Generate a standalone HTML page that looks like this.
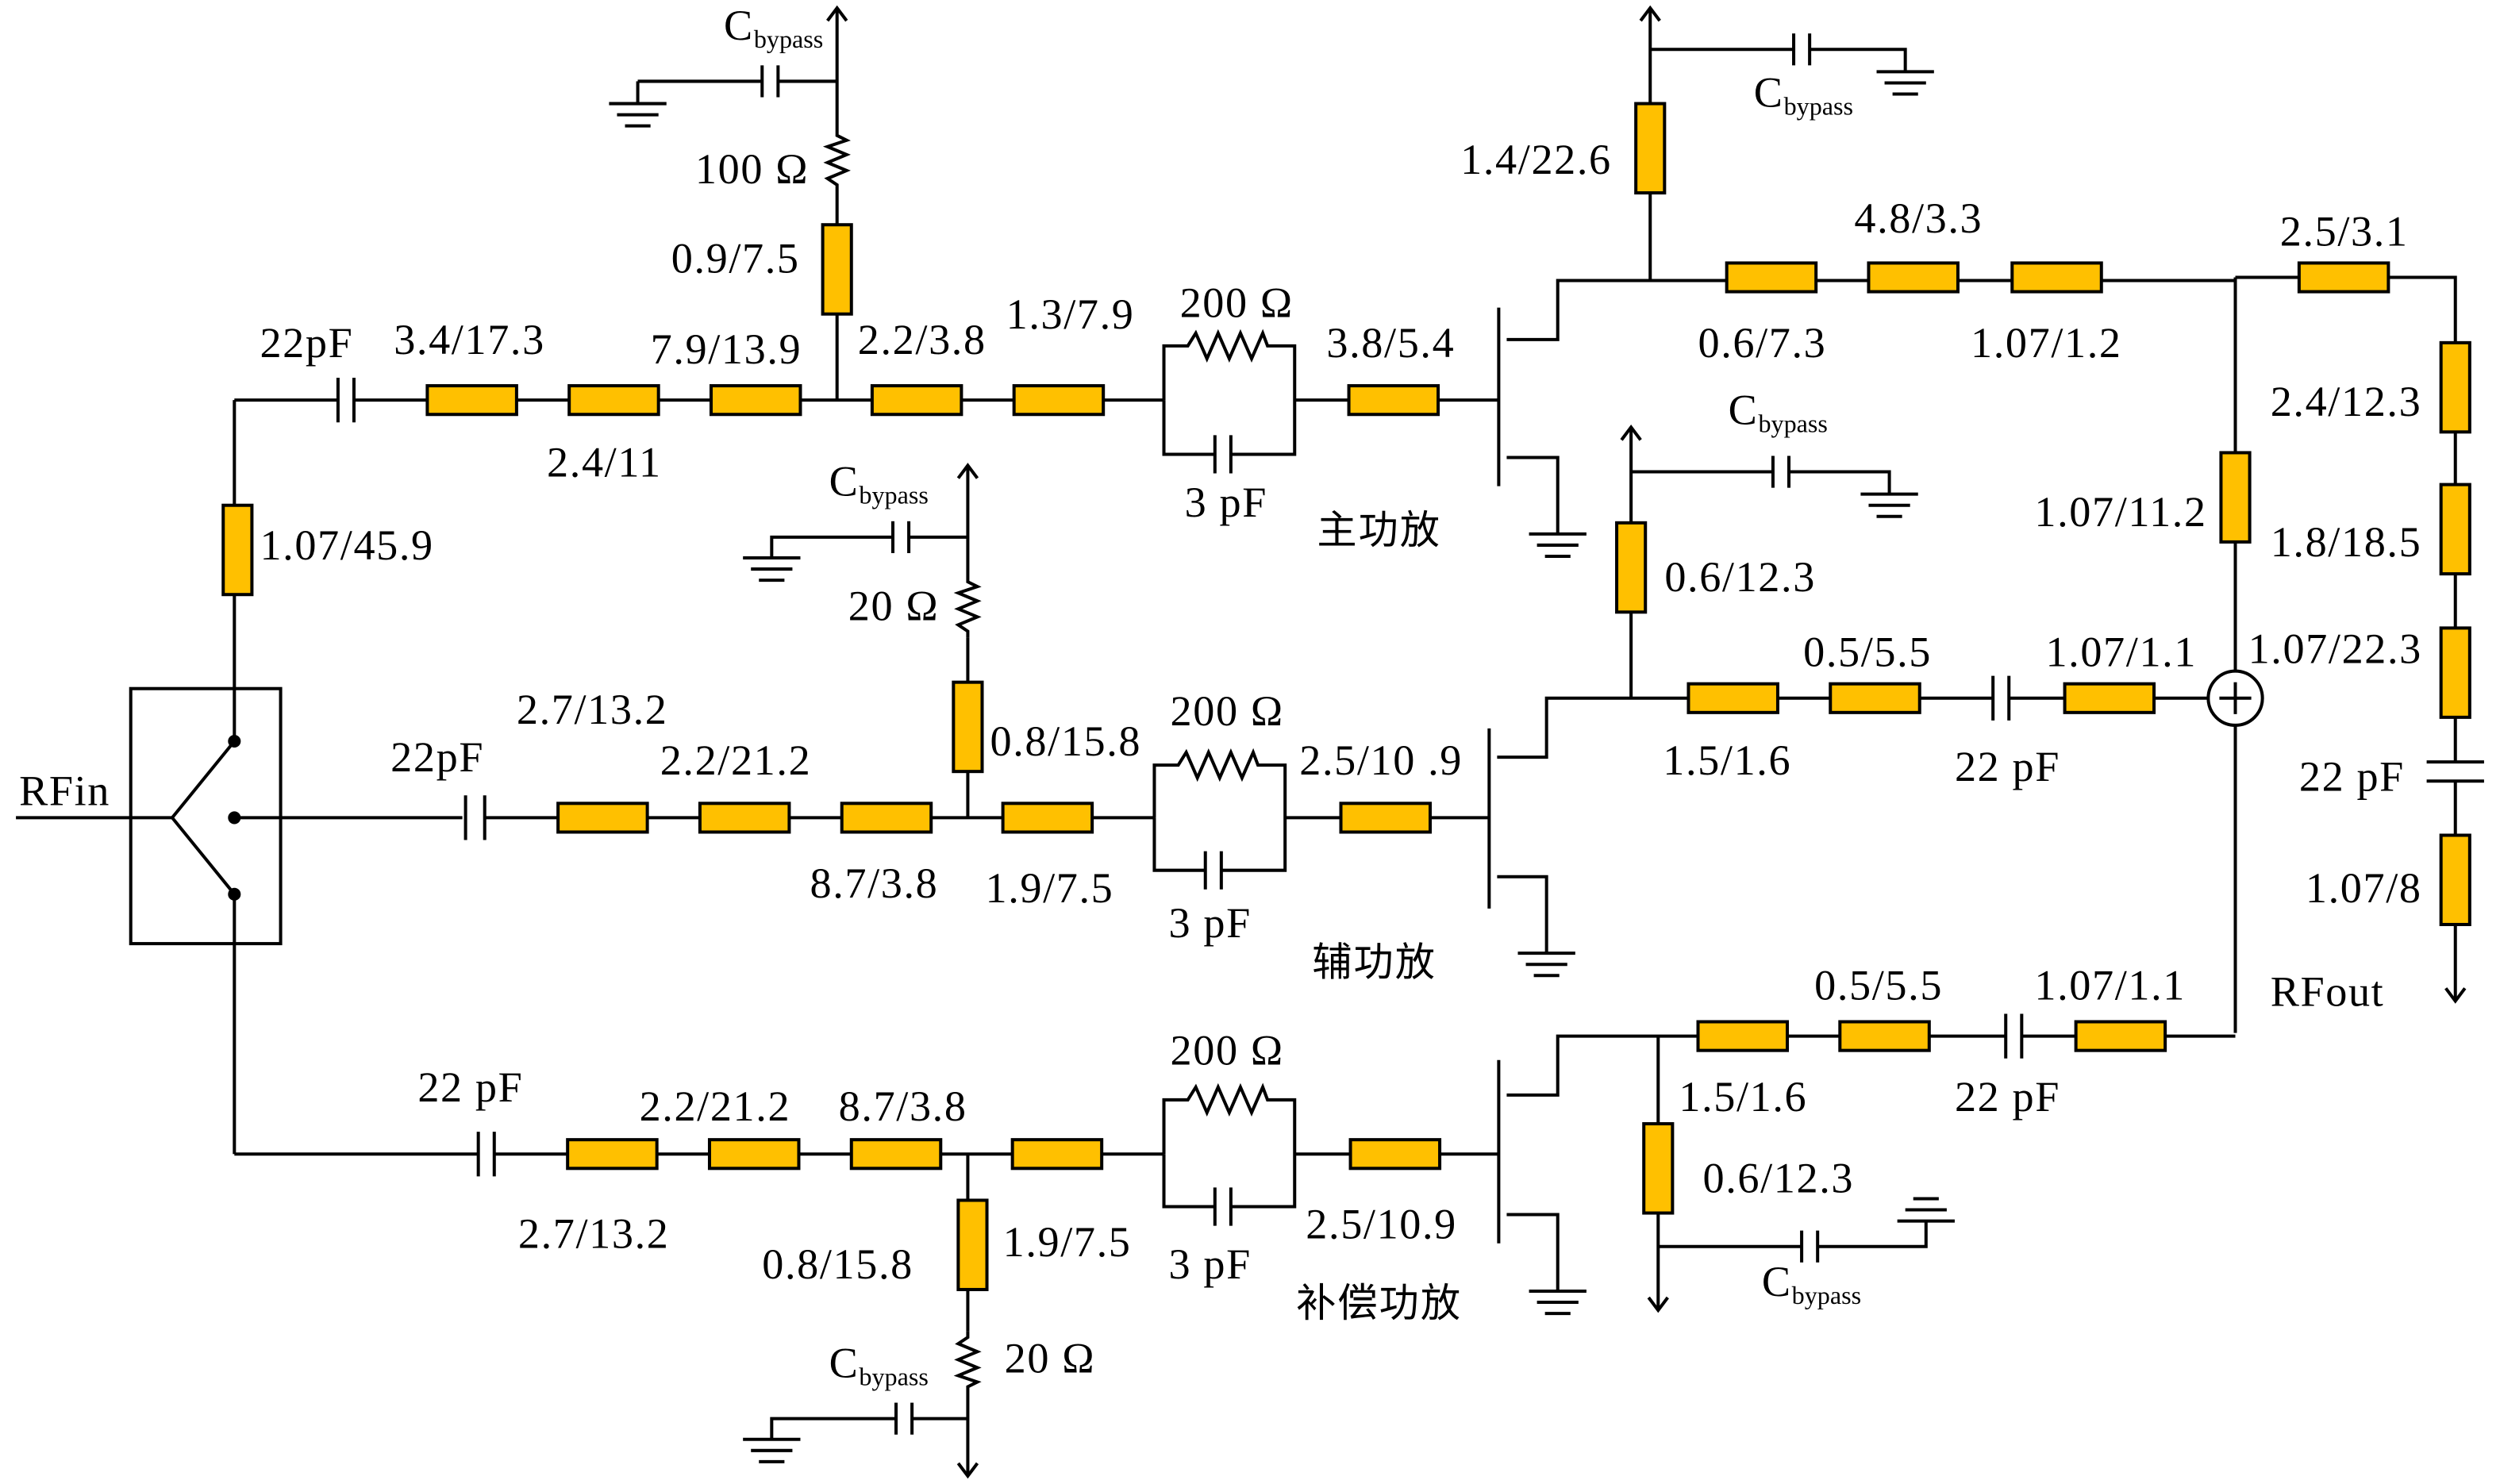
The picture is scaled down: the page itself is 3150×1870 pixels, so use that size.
<!DOCTYPE html>
<html><head><meta charset="utf-8"><style>
html,body{margin:0;padding:0;background:#fff;}
svg{display:block;}
text{font-family:"Liberation Serif","Noto Serif CJK SC",serif;font-size:27px;letter-spacing:0.8px;fill:#000;}
.s{font-size:16px;letter-spacing:0;}
.c{font-family:"Liberation Serif","Noto Sans CJK SC",sans-serif;font-size:25px;letter-spacing:1px;}
</style></head><body>
<svg width="3150" height="1870" viewBox="0 0 1568 931" preserveAspectRatio="none" xmlns="http://www.w3.org/2000/svg">
<g stroke="#000" stroke-width="2" fill="none">
<rect x="82" y="432" width="94" height="160"/>
<line x1="10" y1="513" x2="108" y2="513"/>
<polyline points="147,465 108,513 147,561"/>
<line x1="147" y1="513" x2="290" y2="513"/>
<line x1="147" y1="465" x2="147" y2="251"/>
<line x1="147" y1="561" x2="147" y2="724"/>

<line x1="147" y1="251" x2="212" y2="251"/>
<line x1="212" y1="237" x2="212" y2="265"/><line x1="222" y1="237" x2="222" y2="265"/>
<line x1="222" y1="251" x2="730" y2="251"/>
<line x1="525" y1="251" x2="525" y2="120"/>
<polyline points="525,120 525,116 519,112 531,107 519,102 531,97 519,92 531,88 525,85 525,5"/>
<polyline points="519,13 525,5 531,13"/>
<line x1="525" y1="51" x2="488" y2="51"/>
<line x1="488" y1="41" x2="488" y2="61"/><line x1="478" y1="41" x2="478" y2="61"/>
<line x1="478" y1="51" x2="400" y2="51"/><line x1="400" y1="51" x2="400" y2="65"/>
<line x1="382" y1="65" x2="418" y2="65"/><line x1="387" y1="72" x2="413" y2="72"/><line x1="392" y1="79" x2="408" y2="79"/>
<polyline points="730,251 730,217 745,217 750,209 757,225 764,209 771,225 778,209 785,225 792,209 795,217 812,217 812,285 772,285"/>
<polyline points="730,251 730,285 762,285"/>
<line x1="762" y1="273" x2="762" y2="297"/><line x1="772" y1="273" x2="772" y2="297"/>
<line x1="812" y1="251" x2="940" y2="251"/>
<line x1="940" y1="193" x2="940" y2="305"/>
<polyline points="945,213 977,213 977,176 1402,176"/>
<polyline points="945,287 977,287 977,335"/>
<line x1="959" y1="335" x2="995" y2="335"/><line x1="964" y1="342" x2="990" y2="342"/><line x1="969" y1="349" x2="985" y2="349"/>
<line x1="1035" y1="176" x2="1035" y2="5"/>
<polyline points="1029,13 1035,5 1041,13"/>
<line x1="1035" y1="31" x2="1125" y2="31"/>
<line x1="1125" y1="21" x2="1125" y2="41"/><line x1="1135" y1="21" x2="1135" y2="41"/>
<polyline points="1135,31 1195,31 1195,45"/>
<line x1="1177" y1="45" x2="1213" y2="45"/><line x1="1182" y1="52" x2="1208" y2="52"/><line x1="1187" y1="59" x2="1203" y2="59"/>
<polyline points="1402,174 1540,174 1540,478"/>
<line x1="1522" y1="478" x2="1558" y2="478"/><line x1="1522" y1="490" x2="1558" y2="490"/>
<line x1="1540" y1="490" x2="1540" y2="628"/>
<polyline points="1534,620 1540,628 1546,620"/>
<line x1="1402" y1="174" x2="1402" y2="421"/>
<line x1="1402" y1="455" x2="1402" y2="648"/>
<circle cx="1402" cy="438" r="17"/>
<line x1="1392" y1="438" x2="1412" y2="438"/><line x1="1402" y1="428" x2="1402" y2="448"/>

<line x1="292" y1="499" x2="292" y2="527"/><line x1="304" y1="499" x2="304" y2="527"/>
<line x1="304" y1="513" x2="724" y2="513"/>
<line x1="607" y1="513" x2="607" y2="400"/>
<polyline points="607,400 607,396 601,392 613,387 601,382 613,377 601,372 613,368 607,365 607,292"/>
<polyline points="601,300 607,292 613,300"/>
<line x1="607" y1="337" x2="570" y2="337"/>
<line x1="570" y1="327" x2="570" y2="347"/><line x1="560" y1="327" x2="560" y2="347"/>
<polyline points="560,337 484,337 484,350"/>
<line x1="466" y1="350" x2="502" y2="350"/><line x1="471" y1="357" x2="497" y2="357"/><line x1="476" y1="364" x2="492" y2="364"/>
<polyline points="724,513 724,480 739,480 744,472 751,488 758,472 765,488 772,472 779,488 786,472 789,480 806,480 806,546 766,546"/>
<polyline points="724,513 724,546 756,546"/>
<line x1="756" y1="534" x2="756" y2="558"/><line x1="766" y1="534" x2="766" y2="558"/>
<line x1="806" y1="513" x2="934" y2="513"/>
<line x1="934" y1="457" x2="934" y2="570"/>
<polyline points="939,475 970,475 970,438 1250,438"/>
<line x1="1250" y1="424" x2="1250" y2="452"/><line x1="1260" y1="424" x2="1260" y2="452"/>
<line x1="1260" y1="438" x2="1385" y2="438"/>
<polyline points="939,550 970,550 970,598"/>
<line x1="952" y1="598" x2="988" y2="598"/><line x1="957" y1="605" x2="983" y2="605"/><line x1="962" y1="612" x2="978" y2="612"/>
<line x1="1023" y1="438" x2="1023" y2="268"/>
<polyline points="1017,276 1023,268 1029,276"/>
<line x1="1023" y1="296" x2="1112" y2="296"/>
<line x1="1112" y1="286" x2="1112" y2="306"/><line x1="1122" y1="286" x2="1122" y2="306"/>
<polyline points="1122,296 1185,296 1185,310"/>
<line x1="1167" y1="310" x2="1203" y2="310"/><line x1="1172" y1="317" x2="1198" y2="317"/><line x1="1177" y1="324" x2="1193" y2="324"/>

<line x1="147" y1="724" x2="300" y2="724"/>
<line x1="300" y1="710" x2="300" y2="738"/><line x1="310" y1="710" x2="310" y2="738"/>
<line x1="310" y1="724" x2="730" y2="724"/>
<line x1="607" y1="724" x2="607" y2="835"/>
<polyline points="607,835 607,839 601,843 613,848 601,853 613,858 601,863 613,867 607,870 607,926"/>
<polyline points="601,918 607,926 613,918"/>
<line x1="607" y1="890" x2="572" y2="890"/>
<line x1="572" y1="880" x2="572" y2="900"/><line x1="562" y1="880" x2="562" y2="900"/>
<polyline points="562,890 484,890 484,903"/>
<line x1="466" y1="903" x2="502" y2="903"/><line x1="471" y1="910" x2="497" y2="910"/><line x1="476" y1="917" x2="492" y2="917"/>
<polyline points="730,724 730,690 745,690 750,682 757,698 764,682 771,698 778,682 785,698 792,682 795,690 812,690 812,757 772,757"/>
<polyline points="730,724 730,757 762,757"/>
<line x1="762" y1="745" x2="762" y2="769"/><line x1="772" y1="745" x2="772" y2="769"/>
<line x1="812" y1="724" x2="940" y2="724"/>
<line x1="940" y1="665" x2="940" y2="780"/>
<polyline points="945,687 977,687 977,650 1258,650"/>
<line x1="1258" y1="636" x2="1258" y2="664"/><line x1="1268" y1="636" x2="1268" y2="664"/>
<polyline points="1268,650 1402,650"/>
<polyline points="945,762 977,762 977,810"/>
<line x1="959" y1="810" x2="995" y2="810"/><line x1="964" y1="817" x2="990" y2="817"/><line x1="969" y1="824" x2="985" y2="824"/>
<line x1="1040" y1="650" x2="1040" y2="822"/>
<polyline points="1034,814 1040,822 1046,814"/>
<line x1="1040" y1="782" x2="1130" y2="782"/>
<line x1="1130" y1="772" x2="1130" y2="792"/><line x1="1140" y1="772" x2="1140" y2="792"/>
<polyline points="1140,782 1208,782 1208,766"/>
<line x1="1190" y1="766" x2="1226" y2="766"/><line x1="1195" y1="759" x2="1221" y2="759"/><line x1="1200" y1="752" x2="1216" y2="752"/>
</g>
<g fill="#000"><circle cx="147" cy="465" r="4"/><circle cx="147" cy="513" r="4"/><circle cx="147" cy="561" r="4"/></g>
<g fill="#FFC000" stroke="#000" stroke-width="2">
<rect x="140" y="317" width="18" height="56"/>
<rect x="268" y="242" width="56" height="18"/><rect x="357" y="242" width="56" height="18"/><rect x="446" y="242" width="56" height="18"/>
<rect x="547" y="242" width="56" height="18"/><rect x="636" y="242" width="56" height="18"/>
<rect x="516" y="141" width="18" height="56"/>
<rect x="846" y="242" width="56" height="18"/>
<rect x="1026" y="65" width="18" height="56"/>
<rect x="1083" y="165" width="56" height="18"/><rect x="1172" y="165" width="56" height="18"/><rect x="1262" y="165" width="56" height="18"/>
<rect x="1442" y="165" width="56" height="18"/>
<rect x="1531" y="215" width="18" height="56"/><rect x="1531" y="304" width="18" height="56"/><rect x="1531" y="394" width="18" height="56"/>
<rect x="1531" y="524" width="18" height="56"/>
<rect x="1393" y="284" width="18" height="56"/>
<rect x="350" y="504" width="56" height="18"/><rect x="439" y="504" width="56" height="18"/><rect x="528" y="504" width="56" height="18"/>
<rect x="629" y="504" width="56" height="18"/>
<rect x="598" y="428" width="18" height="56"/>
<rect x="841" y="504" width="56" height="18"/>
<rect x="1059" y="429" width="56" height="18"/><rect x="1148" y="429" width="56" height="18"/><rect x="1295" y="429" width="56" height="18"/>
<rect x="1014" y="328" width="18" height="56"/>
<rect x="356" y="715" width="56" height="18"/><rect x="445" y="715" width="56" height="18"/><rect x="534" y="715" width="56" height="18"/>
<rect x="635" y="715" width="56" height="18"/>
<rect x="601" y="753" width="18" height="56"/>
<rect x="847" y="715" width="56" height="18"/>
<rect x="1065" y="641" width="56" height="18"/><rect x="1154" y="641" width="56" height="18"/><rect x="1302" y="641" width="56" height="18"/>
<rect x="1031" y="705" width="18" height="56"/>
</g>
<text x="12" y="505">RFin</text>
<text x="163" y="351">1.07/45.9</text>
<text x="163" y="224">22pF</text>
<text x="247" y="222">3.4/17.3</text>
<text x="343" y="299">2.4/11</text>
<text x="408" y="228">7.9/13.9</text>
<text x="538" y="222">2.2/3.8</text>
<text x="631" y="206">1.3/7.9</text>
<text x="740" y="199">200 Ω</text>
<text x="743" y="324">3 pF</text>
<text x="832" y="224">3.8/5.4</text>
<text class="c" x="826" y="341">主功放</text>
<text x="436" y="115">100 Ω</text>
<text x="421" y="171">0.9/7.5</text>
<text x="454" y="25">C<tspan class="s" dy="5">bypass</tspan></text>
<text x="916" y="109">1.4/22.6</text>
<text x="1100" y="67">C<tspan class="s" dy="5">bypass</tspan></text>
<text x="1163" y="146">4.8/3.3</text>
<text x="1065" y="224">0.6/7.3</text>
<text x="1236" y="224">1.07/1.2</text>
<text x="1430" y="154">2.5/3.1</text>
<text x="1424" y="261">2.4/12.3</text>
<text x="1276" y="330">1.07/11.2</text>
<text x="1424" y="349">1.8/18.5</text>
<text x="1410" y="416">1.07/22.3</text>
<text x="1442" y="496">22 pF</text>
<text x="1446" y="566">1.07/8</text>
<text x="1424" y="631">RFout</text>
<text x="1084" y="266">C<tspan class="s" dy="5">bypass</tspan></text>
<text x="1044" y="371">0.6/12.3</text>
<text x="1131" y="418">0.5/5.5</text>
<text x="1283" y="418">1.07/1.1</text>
<text x="1043" y="486">1.5/1.6</text>
<text x="1226" y="490">22 pF</text>
<text x="324" y="454">2.7/13.2</text>
<text x="245" y="484">22pF</text>
<text x="414" y="486">2.2/21.2</text>
<text x="520" y="311">C<tspan class="s" dy="5">bypass</tspan></text>
<text x="532" y="389">20 Ω</text>
<text x="621" y="474">0.8/15.8</text>
<text x="508" y="563">8.7/3.8</text>
<text x="618" y="566">1.9/7.5</text>
<text x="734" y="455">200 Ω</text>
<text x="733" y="588">3 pF</text>
<text x="815" y="486">2.5/10 .9</text>
<text class="c" x="823" y="612">辅功放</text>
<text x="262" y="691">22 pF</text>
<text x="401" y="703">2.2/21.2</text>
<text x="526" y="703">8.7/3.8</text>
<text x="325" y="783">2.7/13.2</text>
<text x="478" y="802">0.8/15.8</text>
<text x="629" y="788">1.9/7.5</text>
<text x="630" y="861">20 Ω</text>
<text x="520" y="864">C<tspan class="s" dy="5">bypass</tspan></text>
<text x="734" y="668">200 Ω</text>
<text x="733" y="802">3 pF</text>
<text x="819" y="777">2.5/10.9</text>
<text class="c" x="813" y="826">补偿功放</text>
<text x="1053" y="697">1.5/1.6</text>
<text x="1068" y="748">0.6/12.3</text>
<text x="1138" y="627">0.5/5.5</text>
<text x="1276" y="627">1.07/1.1</text>
<text x="1226" y="697">22 pF</text>
<text x="1105" y="813">C<tspan class="s" dy="5">bypass</tspan></text>
</svg>
</body></html>
